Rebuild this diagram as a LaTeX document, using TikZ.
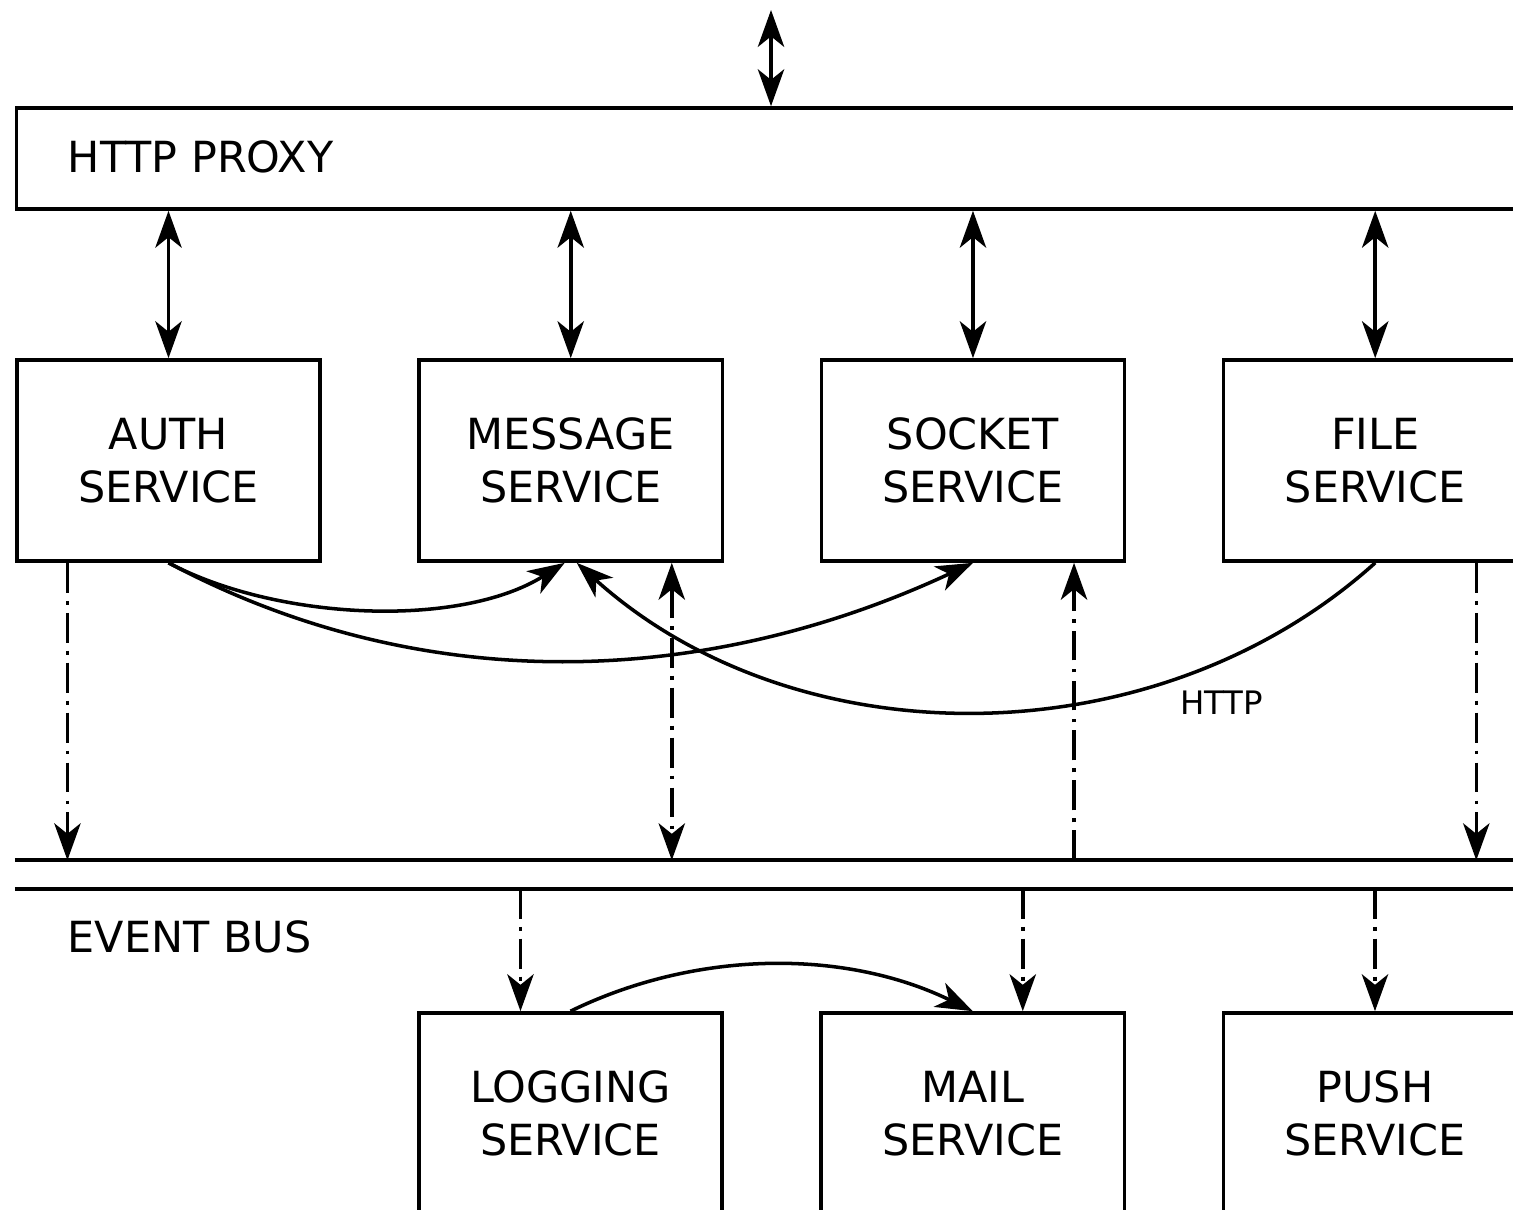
\documentclass[tikz,border=0pt]{standalone}
\usepackage{fontspec}
\setmainfont{DejaVu Sans}
\usetikzlibrary{arrows.meta,positioning}

\begin{document}
\begin{tikzpicture}[x=0.01cm,y=-0.01cm,node distance=4.02cm,on grid,line width=1pt,
    >={Stealth[length=10.5pt,width=7.5pt,inset=3pt]},
    service/.style={draw,rectangle,minimum width=3.03cm,minimum height=2.01cm,align=center,
      font=\fontsize{12.2pt}{15.1pt}\selectfont},
    caption/.style={anchor=west,inner sep=0pt,font=\fontsize{12.2pt}{15.1pt}\selectfont},
    bus link/.style={dash pattern=on 8.5pt off 2.3pt on 1.1pt off 2.3pt}]
    \useasboundingbox (0,0) rectangle (1513,1210);
    \clip (0,0) rectangle (1513,1210);
    % proxy and event bus
    \node[draw,minimum width=15.13cm,minimum height=1.01cm] (proxy) at (773.5,158.5) {};
    \node[caption] (proxy label) at (66,157) {HTTP PROXY};
    \node[minimum width=15.13cm,minimum height=0.25cm,inner sep=0pt] (bus) at (773.5,874.5) {};
    \draw (bus.north west) -- (bus.north east) (bus.south west) -- (bus.south east);
    \node[caption] (bus label) at (66,937) {EVENT BUS};
    % services
    \node[service] (auth) at (168.5,460.5) {AUTH\\SERVICE};
    \node[service] (message) [right=of auth]    {MESSAGE\\SERVICE};
    \node[service] (socket)  [right=of message] {SOCKET\\SERVICE};
    \node[service] (file)    [right=of socket]  {FILE\\SERVICE};
    \node[service] (logging) at (570.5,1113.5) {LOGGING\\SERVICE};
    \node[service] (mail)    [right=of logging] {MAIL\\SERVICE};
    \node[service] (push)    [right=of mail]    {PUSH\\SERVICE};
    % proxy links
    \coordinate (entry) at (771,10);
    \draw[<->] (entry) -- (entry |- proxy.north);
    \foreach \s in {auth,message,socket,file}
      \draw[<->] (\s.north) -- (\s.north |- proxy.south);
    % bus links
    \coordinate (auth out) at ([xshift=-1.01cm]auth.south);
    \coordinate (message out) at ([xshift=1.01cm]message.south);
    \coordinate (socket in) at ([xshift=1.01cm]socket.south);
    \coordinate (file out) at ([xshift=1.01cm]file.south);
    \coordinate (logging in) at ([xshift=-0.5cm]logging.north);
    \coordinate (mail in) at ([xshift=0.5cm]mail.north);
    \draw[bus link,->] (auth out) -- (auth out |- bus.north);
    \draw[bus link,<->] (message out) -- (message out |- bus.north);
    \draw[bus link,->] (socket in |- bus.north) -- (socket in);
    \draw[bus link,->] (file out) -- (file out |- bus.north);
    \draw[bus link,->] (logging in |- bus.south) -- (logging in);
    \draw[bus link,->] (mail in |- bus.south) -- (mail in);
    \draw[bus link,->] (push.north |- bus.south) -- (push.north);
    % direct calls
    \draw[->] (auth.south) to[out=-28,in=-148,looseness=0.8] ([xshift=-0.06cm]message.south);
    \draw[->] (auth.south) to[out=-28,in=-155,looseness=0.93] (socket.south);
    \draw[->] (file.south) to[out=-138,in=-42,looseness=0.95]
      node[pos=0.25,anchor=north west,inner sep=0pt,xshift=-0.1cm,yshift=-0.15cm,
        font=\fontsize{9.2pt}{11pt}\selectfont] (http) {HTTP}
      ([xshift=0.06cm]message.south);
    \draw[->] (logging.north) to[out=26,in=154,looseness=0.9] (mail.north);
\end{tikzpicture}
\end{document}
